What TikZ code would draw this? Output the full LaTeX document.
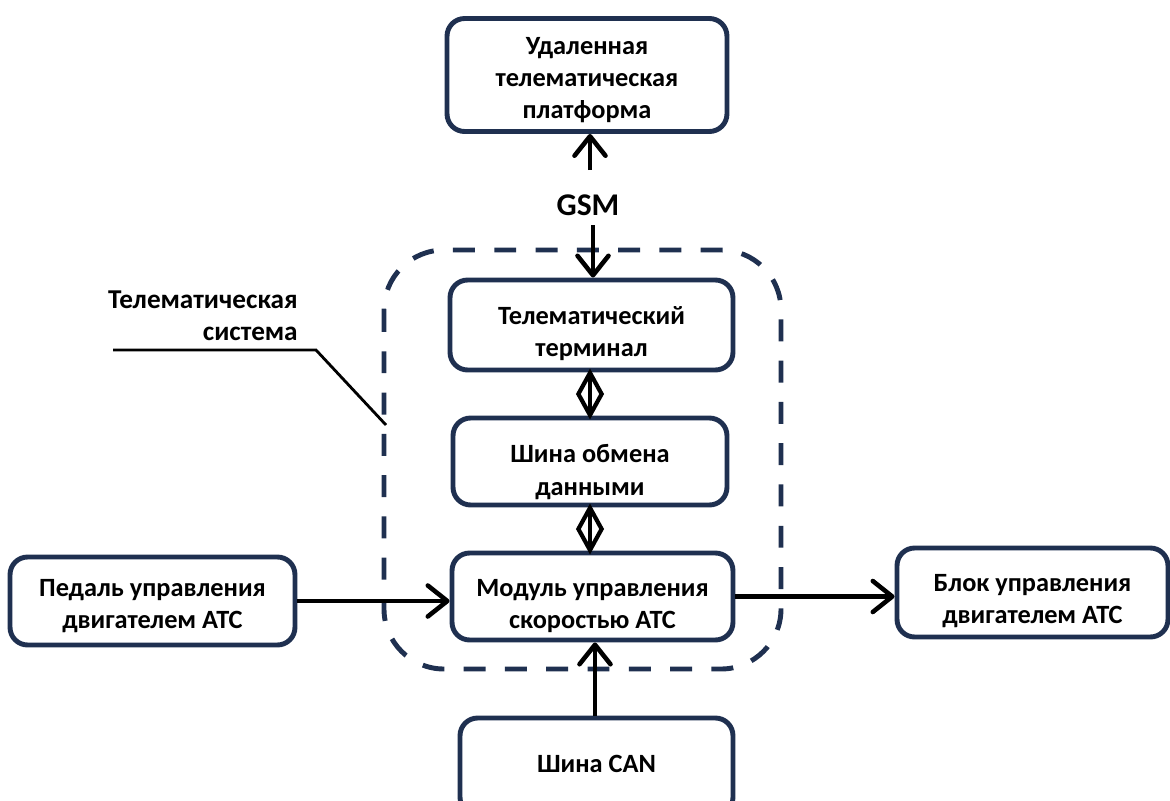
\documentclass[tikz,border=0pt]{standalone}
\usepackage{fontspec}
\setmainfont{Carlito}
\usetikzlibrary{arrows.meta,shapes.geometric,calc}
\definecolor{navy}{HTML}{1F3050}
\newcommand{\boxtext}[2]{\raisebox{-#1pt}[\height][\depth]{\begin{tabular}{@{}c@{}}#2\end{tabular}}}
\tikzset{
  box/.style={draw=navy, line width=2.8pt, rounded corners=10pt,
    font=\fontsize{15}{18.3}\selectfont\bfseries, inner sep=0pt, fill=white},
  conn/.style={draw=black, line width=2.6pt},
  arr/.style={conn, -{Straight Barb[length=3.9mm,width=6.2mm,round]}},
  dia/.style={diamond, draw=black, line width=2.4pt, inner sep=0pt,
    minimum width=0.5cm, minimum height=0.88cm},
  sysbox/.style={draw=navy, line width=2.8pt, rounded corners=1.2cm,
    dash pattern=on 12.5pt off 11pt},
  lbl/.style={font=\fontsize{15.5}{18.5}\selectfont\bfseries, align=right, inner sep=0pt},
}
\begin{document}
\begin{tikzpicture}[x=0.02cm,y=-0.02cm]
\useasboundingbox (0,0) rectangle (1170,801);
% system boundary
\draw[sysbox] (384,250) rectangle (781,669);
% boxes
\node[box, minimum width=5.6cm, minimum height=2.26cm] (top) at (587,75)
  {\boxtext{3}{Удаленная\\телематическая\\платформа}};
\node[box, minimum width=5.66cm, minimum height=1.8cm] (term) at (591.5,325)
  {\boxtext{5}{Телематический\\терминал}};
\node[box, minimum width=5.48cm, minimum height=1.74cm] (bus) at (590,461.5)
  {\boxtext{6.3}{Шина обмена\\данными}};
\node[box, minimum width=5.62cm, minimum height=1.74cm] (mod) at (592.5,596.5)
  {\boxtext{5.5}{Модуль управления\\скоростью АТС}};
\node[box, minimum width=5.7cm, minimum height=1.76cm] (pedal) at (152.5,601)
  {\boxtext{3}{Педаль управления\\двигателем АТС}};
\node[box, minimum width=5.42cm, minimum height=1.78cm] (block) at (1032.5,592.5)
  {\boxtext{4.7}{Блок управления\\двигателем АТС}};
\node[box, minimum width=5.46cm, minimum height=1.94cm] (can) at (596.5,766.5)
  {\boxtext{0}{Шина CAN}};
% GSM
\node[font=\fontsize{18}{21}\selectfont\bfseries, inner sep=0pt] (gsm) at (588,205) {GSM};
\coordinate (gsmtop) at (590,170);
\coordinate (gsmbot) at (593,225);
\draw[arr] (gsmtop) -- (gsmtop |- top.south);
\draw[arr] (gsmbot) -- (gsmbot |- term.north);
% bidirectional links
\draw[conn] (bus.north |- term.south) -- (bus.north)
  node[midway, dia] (d1) {};
\draw[conn] (bus.south) -- (bus.south |- mod.north)
  node[midway, dia] (d2) {};
% signal arrows
\draw[arr] (pedal.east) -- (pedal.east -| mod.west);
\draw[arr] (mod.east) -- (mod.east -| block.west);
\draw[arr] ($(can.north)+(-1.5,0)$) -- ($(can.north |- mod.south)+(-1.5,0)$);
% label
\node[lbl, anchor=east] (sys) at (298,316) {Телематическая\\система};
\coordinate (l1) at (113,350);
\coordinate (l2) at (316,350);
\coordinate (l3) at (386,425);
\draw[black, line width=1.6pt] (l1) -- (l2) -- (l3);
\end{tikzpicture}
\end{document}
